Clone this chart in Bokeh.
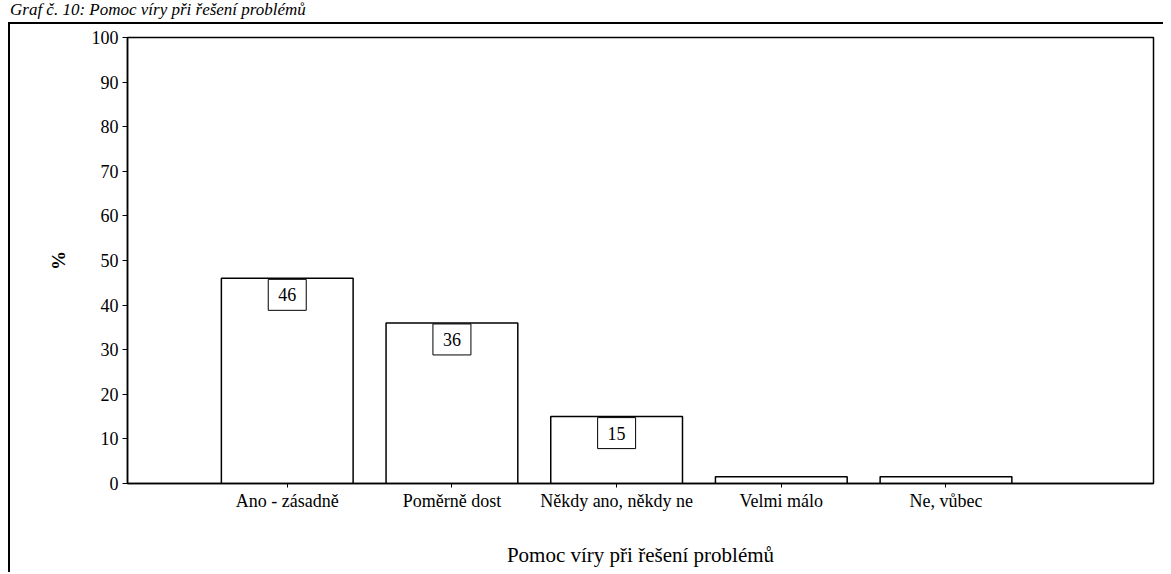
from bokeh.plotting import figure
from bokeh.models import Range1d, FixedTicker, ColumnDataSource, Div
from bokeh.layouts import column
from bokeh.core.properties import value
from bokeh.embed import file_html
from bokeh.resources import INLINE

# ---- data ----
title_text = "Graf č. 10: Pomoc víry při řešení problémů"
categories = ["Ano - zásadně", "Poměrně dost", "Někdy ano, někdy ne", "Velmi málo", "Ne, vůbec"]
percent = [46, 36, 15, 1.5, 1.5]
bar_labels = ["46", "36", "15", "", ""]
y_ticks = [0, 10, 20, 30, 40, 50, 60, 70, 80, 90, 100]
x_title = "Pomoc víry při řešení problémů"
y_title = "%"

FONT = "Liberation Serif"
positions = list(range(1, len(categories) + 1))

caption = Div(text=title_text, width=1150, height=22, margin=(0, 0, 0, 10),
              styles={"font-family": FONT, "font-style": "italic", "font-size": "17px",
                      "line-height": "20px", "color": "black"})

p = figure(width=1155, height=550, output_backend="svg", toolbar_location=None, title=None,
           x_range=Range1d(0.03, 6.26), y_range=Range1d(0, 100),
           min_border_left=117, min_border_right=12, min_border_top=13, min_border_bottom=91)
p.margin = (0, 0, 0, 8)
p.styles = {"border-left": "2px solid black", "border-top": "2px solid black"}
p.background_fill_color = "white"
p.border_fill_color = "white"
p.outline_line_color = "black"
p.outline_line_width = 1.5
p.xgrid.visible = False
p.ygrid.visible = False

src = ColumnDataSource(dict(x=positions, top=percent))
p.vbar(x="x", top="top", bottom=0, width=0.8, source=src,
       fill_color="white", line_color="black", line_width=1.5)

lx = [positions[i] for i in range(len(categories)) if bar_labels[i]]
ly = [percent[i] for i in range(len(categories)) if bar_labels[i]]
lt = [bar_labels[i] for i in range(len(categories)) if bar_labels[i]]
lsrc = ColumnDataSource(dict(x=lx, y=ly, text=lt))
p.text(x="x", y="y", text="text", source=lsrc,
       text_align="center", text_baseline="top", y_offset=1,
       text_font=value(FONT), text_font_size="18px", text_color="black",
       background_fill_color="white", border_line_color="black",
       border_line_width=1, padding=(10, 9))

# axes
xa = p.xaxis[0]
xa.ticker = FixedTicker(ticks=positions)
xa.major_label_overrides = {pos: c for pos, c in zip(positions, categories)}
xa.major_tick_out = 4
xa.major_tick_in = 0
xa.minor_tick_out = 0
xa.minor_tick_in = 0
xa.major_label_standoff = 3
xa.axis_line_width = 1.5
xa.axis_line_color = "black"
xa.major_tick_line_color = "black"
xa.major_label_text_font = FONT
xa.major_label_text_font_size = "18px"
xa.major_label_text_color = "black"
xa.axis_label = x_title
xa.axis_label_text_font = FONT
xa.axis_label_text_font_size = "21px"
xa.axis_label_text_font_style = "normal"
xa.axis_label_text_color = "black"
xa.axis_label_standoff = 29

ya = p.yaxis[0]
ya.ticker = FixedTicker(ticks=y_ticks)
ya.major_tick_out = 5
ya.major_tick_in = 0
ya.minor_tick_out = 0
ya.minor_tick_in = 0
ya.major_label_standoff = 4
ya.axis_line_width = 1.5
ya.axis_line_color = "black"
ya.major_tick_line_color = "black"
ya.major_label_text_font = FONT
ya.major_label_text_font_size = "18px"
ya.major_label_text_color = "black"
ya.axis_label = y_title
ya.axis_label_text_font = FONT
ya.axis_label_text_font_size = "19px"
ya.axis_label_text_font_style = "bold"
ya.axis_label_text_color = "black"
ya.axis_label_standoff = 20

layout = column(caption, p, spacing=0)
open("out.html", "w").write(file_html(layout, INLINE))
